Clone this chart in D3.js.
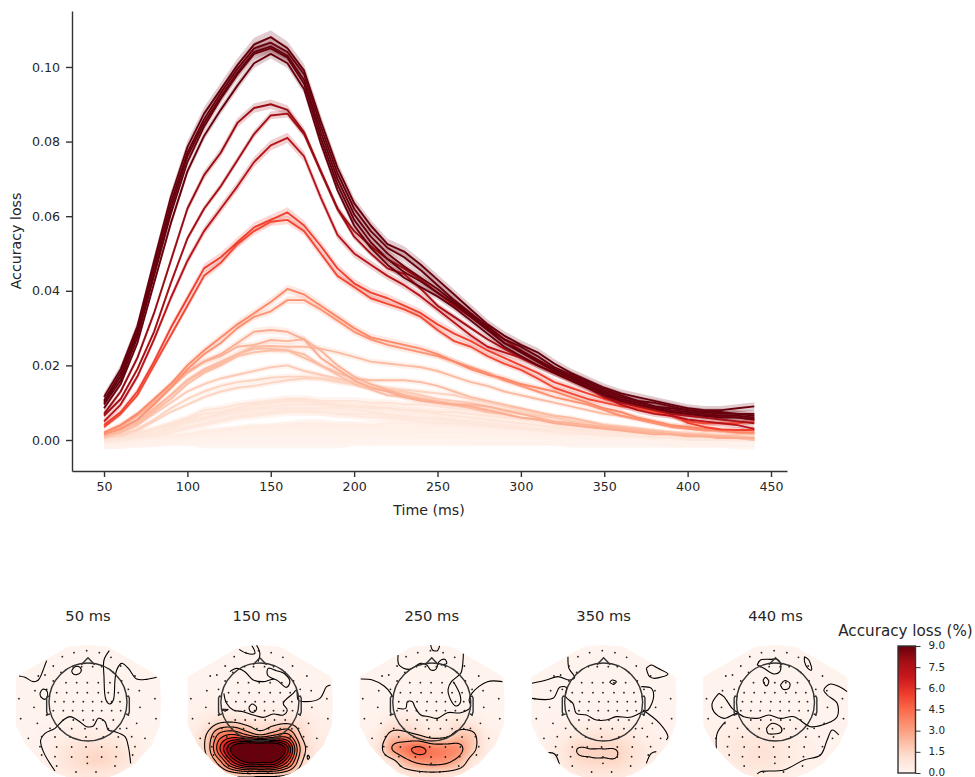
<!DOCTYPE html>
<html><head><meta charset="utf-8">
<script src="https://cdn.jsdelivr.net/npm/d3@7"></script>
<style>html,body{margin:0;background:#fff}svg{display:block}text{font-family:"DejaVu Sans";fill:#262626}</style>
</head><body><svg id="c" width="975" height="777"></svg>
<script>
// ---------- accuracy-loss curves (x 1000), one value every 10 ms from 50 to 440 ms
const times = [50,60,70,80,90,100,110,120,130,140,150,160,170,180,190,200,210,220,230,240,250,260,270,280,290,300,310,320,330,340,350,360,370,380,390,400,410,420,430,440];
const d1=[11.5,19,30.5,48,65,78.5,87.5,94,100.5,106,108,105,99,85.5,73,63.5,57.5,52.5,50.5,47,43,39,35,31,28,25.5,23.5,20.5,18,16,14,12.5,11.5,10.5,9.5,8.5,8,8,8.5,9];
const d2=[10.5,18,29.5,46.5,63.5,77,86,93,99.5,105,106.5,104,98,84,71.5,62,56,51.5,49,45.5,41.5,37.5,34,30.5,27,25,22.5,19.5,17.5,15.5,13.5,12,10.5,10,9,8,7.5,7.5,7,7];
const d3s=[10,17,28.5,45,62,76,85,92,98.5,104,105.5,103,96.5,82.5,70,60.5,54.5,50,46.5,43.5,40.5,37,33.5,30,26,24,21.5,19,17,15,13,11.5,10.5,9,8.5,8,7.5,7,7,6.5];
const d4=[9.5,16,27.5,44,60.5,74.5,84,91.5,98,103.5,105,102.5,95.5,81,68.5,59,53,48.5,45,42.5,39.5,36.5,33,29.5,26,23.5,21,18.5,16.5,14.5,12.5,11,10,9,8,7.5,7,6.5,6.5,6];
const d5=[8.5,15,26,42,58,72,81.5,88.5,95,101,103.5,101,94,79.5,67,57.5,51.5,47,43.5,41,38.5,35.5,32,28.5,25,22.5,20,18,16,14,12,10.5,9.5,8.5,7.5,7,6.5,6,6,5.5];
const r1=[7,13,22,34,48,62,71,77,85,89,90,88.5,82.5,72,62,56,52,48.5,46,43,39.5,36,33,30,27,24,21.5,19,17,15,12.5,10.5,9.5,8.5,7.5,7,6.5,6.5,6,5.5];
const r2=[6.5,11,19,29,42,54,62,68,75,82,87,87.5,82,72,62,54.5,50,46,44.5,40.5,36,33,30,27,24.5,22,20,18,16,14,11.5,10,9,8,7,6.5,6,5.5,5,4.5];
const r3=[5,9.5,17,27,38,48,56,62,68,74.5,79,81,76,65,55,50,47,44,41.5,38.5,35,31.5,28,25,23.5,22,20,18,16,14,11.5,9.5,8,7,6.5,5.5,5,4.5,4,3];
const o1=[4,7.5,13,21,30,38,46,49,53,57,59,61,57.5,52,46,42,39.5,38,36,34,31,28.5,26.5,24,22,20,18,15.5,14,12.5,11,10,9,8,7,4.6,3.5,2.8,2.7,2.7];
const o2=[3.5,7,12,20,28,36,44,47.5,52.5,56,58.5,59,56,50,44,41,38,36.5,35,33,29.5,26.5,25,22.5,20.5,18.8,16.5,14,12.5,11,10,9,8.5,7.5,6.5,5,4.5,4.5,4.5,5];
const l1=[2,4,7,11,15,20,24,27.5,31,34,37,40.5,39,36,33,30,27.5,26.5,25.5,24.5,23,21,19,17.5,16.5,15,14,13,11.5,10,8.5,7.5,6,5,4,3.5,3,2.5,2,2];
const l2=[1.5,3,5.5,9.5,14,19,23,26,30,33,34.5,37.5,37.5,35,32,29,27,25.5,24.5,23.5,22.5,21,19.5,18,16,14.5,13,11.5,10.5,9.5,8,6.5,5.5,4.5,3.5,3,2.5,2.5,2,2];
const p1=[1.5,3.5,6.5,10,14,18,21,23,26,29,29.5,29,27,22,19,16,14,13,11.5,10.5,10,9.5,9,8,7,6,5.5,4.5,4,3.5,3,2.5,2,1.5,1.5,1,1,.5,.5,.5];
const p2=[2,4,7,10.5,15,18.5,21,22.5,25,25.5,26.8,26.5,27,24,20,17,15,13.5,12,11,10,9.5,9.5,9,8,7,6,5,4.5,4,3.5,3,2.5,2,1.5,1.5,1,1,.5,.5];
const p3=[1,2.5,5,8.5,12,16,18.5,20.5,23,25,25.2,25,25,24.5,23.5,22.3,21,20.5,20,19.5,18.5,17,15.5,14.5,13,12,11,10,9,8,7,6.5,6,5,4,3.5,3,2.5,2,1.5];
const p4=[1,2.5,4.5,8,12,16,19,21,23,24.5,24.5,24,22,20,18,16.5,16,16,16,15.5,14.5,13,11.5,10.5,9.5,8.5,7.5,6.5,6,5,4,3.5,3,2.5,2,1.5,1.5,1,1,.5];
const p5=[1,2,4,7.5,11,15,18,20,22.5,23.5,24,24,23,20,17.5,15,13.5,12,11.5,11,10.5,9.5,8.5,7.5,7,6,5.5,5,4.5,4,3.5,3,2.5,2,2,1.5,1,.5,.5,0];
const p6=[.5,2,4,7,10,13,15,16.5,17.5,18.5,19.5,20,18.5,17.5,16.5,15.5,14.5,13.5,13,12,11,10.5,10,9,8,7,6.5,6,5,4.5,3.5,3,2.5,2,1.5,1,1,1,1.5,2];
const p7=[.5,1.5,3,5.5,8.5,11,13,14.5,15.5,16,16.7,17,17,16.5,15.5,15,14,14,13.5,13,12.5,12,11,10,9,8,7,6.5,5.5,5,4,3.5,3,2.5,2,2,1.5,1.5,1,1];
const p8=[.5,1,2.5,5,7.5,9.5,11.5,13,14,14.5,15.3,16,16.5,16.5,16,15,14.5,13.5,12.5,11.5,10.5,9.5,9,8.5,8,7.5,6.5,6,5,4.5,4,3.5,3,2.5,2,1.5,1,1,.5,0];
const f1=[.5,1,2,3,4.5,6,8,8.5,9.5,10,10.5,11,11,10.5,10.5,10.5,10,10,9.5,9.5,9,8.5,8,7.5,7,6.5,6,5.5,5,4.5,4,3.5,3,2.5,2,1.5,1.5,1,1,1];
const f2=[0,.5,1.5,3,4,5.5,7,7.5,8.5,9.5,10,10.5,10.5,10,9.5,9,9,8.5,8,8,7.5,7.5,7,6.5,6,5.5,5,5,4.5,4,3.5,3,2.5,2,2,1.5,1,1,.5,.5];
const f3=[0,.5,1,2,3.5,5,6,7,8,8.5,9,9.5,9.5,9.5,9,9,8.5,8.5,8,7.5,7,6.5,6,5.5,5,4.5,4,3.5,3,2.5,2.5,2,1.5,1,1,.5,.5,0,0,0];
const f4=[0,0,1,2,3,4.5,5.5,6.5,7.5,8,8.5,8.5,8.5,8.5,8.5,8,7.5,7,6.5,6,5.5,5,4.5,4,3.5,3,3,2.5,2.5,2,2,1.5,1,1,.5,.5,.5,.5,0,0];
const f5=[-.5,0,.5,1.5,2.5,3.5,4.5,5.5,6.5,7,7.5,8,8,7.5,7,7,7,6.5,6,6,6,5.5,5,4.5,4,3.5,3,3,2.5,2,1.5,1.5,1,1,.5,.5,0,0,0,0];
const f6=[-.5,0,.5,1,2,3,4,5,6,6.5,7,7.5,7.5,7.5,7,6.5,6,6,5.5,5,4.5,4.5,4,4,3.5,3,2.5,2,2,1.5,1.5,1,1,.5,.5,0,0,0,0,0];
const g1=[-.5,-.5,0,.5,1,1.5,2,2.5,3,3.5,3.5,4,4.5,4.5,4,4,4,4.5,4.5,5,5,4.5,4.5,4,4,3.5,3.5,3,3,2.5,2.5,2,1.5,1.5,1,1,.5,.5,0,0];
const g2=[-1,-.5,0,.5,.5,1,1.5,2,2.5,3,3,3.5,3.5,3.5,3.5,3.5,3,3,3,3.5,3.5,3.5,3,3,2.5,2.5,2,2,2,1.5,1.5,1,1,.5,.5,0,0,0,-.5,-.5];
const g3=[-1,-1,-.5,0,.5,.5,1,1.5,2,2,2.5,2.5,2.5,2.5,2.5,2.5,2.5,2,2,2,2,2,2,1.5,1.5,1.5,1,1,1,1,.5,.5,.5,0,0,0,0,-.5,-.5,-.5];
const g4=[-1,-1,-.5,-.5,0,0,.5,.5,1,1,1,1.5,1.5,1.5,1.5,1.5,1,1,1,1,1,1,.5,.5,.5,.5,.5,0,0,0,0,0,0,0,-.5,-.5,-.5,-.5,-.5,-.5];
const g5=[-1,-.5,-.5,0,0,0,.5,.5,.5,.5,.5,.5,.5,.5,.5,0,0,0,0,0,0,0,0,0,0,0,0,0,-.5,-.5,-.5,-.5,-.5,-.5,-.5,-.5,-.5,-.5,-1,-1];
const curves=[g5,g4,g3,g2,g1,f6,f5,f4,f3,f2,f1,p8,p7,p6,p5,p4,p3,p2,p1,l2,l1,o2,o1,r3,r2,r1,d5,d4,d3s,d2,d1];
const halfWidths=[2.4,2.2,1.6,1.2,1,.9,.9,.9,.9,.9,.9,.7,.7,.7,.7,.8,.8,.8,.9,.9,1,1,1.2,1.2,.9,1.1,1.1,1.2,1.2,1.4,1.6];
const xTicks=[50,100,150,200,250,300,350,400,450];
const yTicks=[0,20,40,60,80,100];

// ---------- topographies
const panelTitles=["50 ms","150 ms","250 ms","350 ms","440 ms"];
const gridX=[-240,-200,-160,-120,-80,-40,0,40,80,120,160,200,240];
const gridY=[-180,-140,-100,-60,-20,20,60,100,140,180,220];
const field50=[
[.12,.12,.12,.12,.12,.12,.12,.12,.12,.12,.12,.12,.12],
[.12,.12,.12,.12,.12,.12,.12,.12,.12,.12,.12,.12,.12],
[.15,.15,.15,.15,.15,.15,.15,.15,.15,.15,.15,.15,.15],
[.15,.15,.15,.15,.15,.15,.15,.15,.15,.15,.15,.15,.15],
[.15,.15,.15,.15,.15,.15,.15,.15,.15,.15,.15,.15,.15],
[.15,.15,.15,.15,.18,.18,.18,.18,.18,.15,.15,.15,.15],
[.15,.15,.18,.2,.25,.25,.25,.25,.25,.2,.18,.15,.15],
[.15,.15,.2,.3,.4,.5,.55,.55,.5,.35,.25,.15,.15],
[.15,.15,.25,.4,.7,1,1.2,1.25,1.05,.65,.35,.2,.15],
[.15,.15,.25,.4,.75,1.1,1.35,1.4,1.15,.75,.35,.2,.15],
[.15,.15,.2,.3,.45,.65,.75,.75,.65,.45,.25,.15,.15]];
const field150=[
[.15,.15,.15,.15,.15,.15,.15,.15,.15,.15,.15,.15,.15],
[.15,.15,.15,.15,.15,.15,.15,.15,.15,.15,.15,.15,.15],
[.15,.15,.15,.15,.15,.15,.15,.15,.15,.15,.15,.15,.15],
[.15,.15,.15,.15,.15,.15,.15,.15,.15,.15,.15,.15,.15],
[.2,.2,.2,.2,.2,.2,.2,.2,.2,.2,.2,.2,.2],
[.25,.25,.3,.35,.35,.35,.35,.35,.35,.35,.3,.25,.2],
[.3,.4,.7,1.4,1.5,1.1,.9,1.1,1.3,1,.55,.35,.3],
[.3,.6,1.6,4,4.8,3.8,2.8,3.6,4,1.6,.7,.5,.3],
[.3,.8,1.8,5.5,9.2,11.5,12,11.5,8,2.5,.9,.6,.3],
[.3,.7,1.2,3.2,6.5,8.6,8.6,8.4,5.5,1.8,.7,.5,.3],
[.2,.4,.7,1.2,1.6,1.8,1.7,1.7,1.4,.8,.5,.3,.2]];
const field250=[
[.12,.12,.12,.12,.12,.12,.12,.12,.12,.12,.12,.12,.12],
[.12,.12,.12,.12,.12,.12,.12,.12,.12,.12,.12,.12,.12],
[.12,.12,.12,.12,.12,.12,.12,.12,.12,.12,.12,.12,.12],
[.15,.15,.15,.15,.15,.15,.15,.15,.15,.15,.15,.15,.15],
[.15,.15,.15,.15,.15,.15,.15,.15,.15,.15,.15,.15,.15],
[.15,.15,.15,.18,.2,.2,.2,.2,.2,.18,.15,.15,.15],
[.2,.2,.3,.8,.9,.6,.5,.6,.9,.7,.3,.2,.2],
[.2,.3,.7,1.9,1.9,1.6,1,1.2,2,1.8,.6,.3,.2],
[.2,.35,1,3,4,4.8,4,3.8,3.4,1.9,.7,.3,.2],
[.2,.3,.5,1,2.4,3.2,3.4,3.2,2.4,.9,.4,.25,.2],
[.2,.25,.35,.5,.7,.9,1,.9,.7,.4,.3,.2,.2]];
const field350=[
[.12,.12,.12,.12,.12,.12,.12,.12,.12,.12,.12,.12,.12],
[.12,.12,.12,.12,.12,.12,.12,.12,.12,.12,.12,.12,.12],
[.12,.12,.12,.12,.12,.12,.12,.12,.12,.12,.12,.12,.12],
[.15,.15,.15,.15,.15,.15,.15,.15,.15,.15,.15,.15,.15],
[.15,.15,.15,.15,.15,.15,.15,.15,.15,.15,.15,.15,.15],
[.15,.15,.18,.2,.2,.2,.2,.2,.2,.18,.15,.15,.15],
[.2,.2,.25,.3,.35,.4,.4,.4,.35,.3,.25,.2,.2],
[.2,.2,.3,.5,.7,.9,1,.9,.7,.4,.3,.2,.2],
[.2,.25,.4,.8,1.5,1.5,1.5,1.47,1.1,.7,.4,.2,.2],
[.2,.25,.4,.7,1.2,1.38,1.4,1.38,.95,.6,.35,.2,.2],
[.2,.2,.3,.4,.6,.7,.7,.7,.5,.3,.2,.2,.2]];
const field440=[
[.12,.12,.12,.12,.12,.12,.12,.12,.12,.12,.12,.12,.12],
[.12,.12,.12,.12,.12,.12,.12,.12,.12,.12,.12,.12,.12],
[.12,.12,.12,.12,.12,.12,.12,.12,.12,.12,.12,.12,.12],
[.15,.15,.15,.15,.15,.15,.15,.15,.15,.15,.15,.15,.15],
[.15,.15,.15,.15,.15,.15,.15,.15,.15,.15,.15,.15,.15],
[.15,.15,.18,.2,.22,.22,.2,.18,.15,.15,.15,.15,.15],
[.2,.2,.3,.35,.4,.4,.35,.3,.3,.25,.2,.2,.2],
[.2,.3,.45,.6,.7,.7,.6,.45,.35,.25,.2,.2,.2],
[.2,.3,.5,.75,.9,.95,.85,.6,.4,.3,.2,.2,.2],
[.2,.3,.45,.65,.85,.9,.8,.55,.35,.25,.2,.2,.2],
[.2,.2,.3,.4,.5,.5,.45,.3,.25,.2,.2,.2,.2]];
const fields=[field50,field150,field250,field350,field440];
const fieldLevels=[[],[1.5,2.5,3.5,4.5,5.5,6.5,7.5,8.5],[1.5,3,4.5],[1.5],[]];

// near-zero contour lines, relative to the head centre
const lines50=[
[[-207,-78],[-189,-74],[-164,-61],[-149,-66],[-129,-111],[-124,-124]],
[[-49,-94],[-39,-106],[-24,-104],[-21,-91],[-34,-82],[-46,-86],[-49,-94]],
[[-144,-26],[-136,-38],[-124,-34],[-121,-21],[-129,-8],[-142,-16],[-144,-26]],
[[64,-154],[48,-126],[48,-76],[54,-6],[66,6],[76,-6],[81,-66],[86,-96],[101,-116],[121,-101],[146,-69],[176,-68],[206,-74]],
[[-99,207],[-134,149],[-142,114],[-129,94],[-99,79],[-74,54],[-54,44],[-29,56],[-4,74],[16,72],[31,49],[51,59],[61,84],[81,89],[111,104],[121,134],[128,184]]];
const lines150=[
[[-62,-158],[-40,-146],[-15,-146],[-25,-171]],
[[-10,-171],[0,-146],[-5,-121]],
[[-90,-91],[-70,-101],[-45,-91],[-20,-66],[10,-61],[45,-68],[80,-44],[90,-61],[75,-84],[50,-94],[25,-101],[23,-81],[45,-68]],
[[-108,-26],[-100,4],[-80,24],[-50,29],[-20,39],[10,46],[40,36],[70,39],[82,24],[70,4],[100,-26],[110,-36],[115,-6],[135,-1],[180,-11],[200,-46],[212,-51]],
[[-33,16],[-23,6],[-10,16],[-15,29],[-28,29],[-33,16]],
[[-115,22],[-95,22],[-105,27],[-115,22]],
[[144,159],[149,166],[144,172],[142,165],[144,159]]];
const lines250=[
[[-3,-171],[2,-156],[17,-154],[24,-171]],
[[-101,-141],[-98,-111],[-68,-98],[-33,-116],[-15,-111],[-3,-96],[12,-98],[22,-121],[39,-128],[45,-116],[27,-111]],
[[95,-146],[92,-106],[87,-86],[59,-61],[49,-38],[57,-6],[72,12],[85,4],[85,-21],[65,-61]],
[[-213,-69],[-178,-66],[-143,-48],[-123,-26],[-118,-16]],
[[212,-61],[167,-61],[122,-28],[112,-6],[117,14],[87,32],[47,32],[17,49],[-8,44],[-33,39],[-51,14],[-58,-1],[-73,-1],[-78,19],[-103,19]]];
const lines350=[
[[-107,-136],[-104,-101],[-87,-74],[-102,-66],[-137,-76],[-172,-66],[-215,-56]],
[[-215,-11],[-152,-11],[-132,-44],[-112,-44],[-114,-16],[-92,4],[-82,34],[-52,39],[-22,54],[8,54],[38,44],[78,46],[118,29],[133,24],[150,-16],[143,-41],[113,-46]],
[[118,24],[168,64],[193,104],[188,114]],
[[18,-59],[26,-66],[38,-61],[30,-53],[18,-59]],
[[128,-101],[143,-111],[163,-101],[193,-84],[153,-71],[138,-76],[128,-101]],
[[-167,152],[-147,156],[-132,189]],
[[128,184],[143,154],[158,149]]];
const lines440=[
[[-55,-111],[-45,-126],[-15,-128],[5,-128],[15,-116],[13,-91],[-5,-84],[-35,-101],[-55,-111]],
[[87,-136],[100,-126],[108,-96],[97,-101],[87,-121],[87,-136]],
[[-37,-66],[-30,-74],[-20,-61],[-27,-48],[-35,-56],[-37,-66]],
[[15,-51],[27,-64],[43,-56],[40,-41],[23,-38],[15,-51]],
[[-170,-26],[-190,4],[-185,29],[-155,49],[-115,34],[-95,44],[-55,49],[-20,39],[15,49],[55,44],[105,74],[155,64],[185,44],[185,4],[155,-21],[145,-36],[165,-54],[195,-44],[215,-31]],
[[-170,-26],[-155,-16],[-130,19],[-110,34]],
[[-150,59],[-175,94],[-177,144]],
[[-27,79],[-10,64],[15,74],[18,89],[-5,96],[-23,94],[-27,79]],
[[-55,216],[-45,209],[25,204],[85,174],[135,159],[155,114],[170,84],[190,99]]];
const contourLines=[lines50,lines150,lines250,lines350,lines440];

const outline=[[-2,-171],[60,-165],[130,-125],[206,-80],[216,-70],[218,0],[216,68],[190,130],[140,185],[90,215],[60,225],[-60,225],[-100,212],[-140,180],[-185,130],[-216,70],[-216,-76],[-205,-82],[-130,-125],[-60,-165]];
const sensors=[[-4,-154],[-42,-148],[34,-148],[-77,-136],[69,-134],[-104,-108],[98,-108],[-149,-78],[141,-78],[-129,-81],[-81,-89],[76,-89],[-19,-106],[14,-106],[-46,-106],[41,-106],
[-66,-58],[-34,-58],[-2,-58],[31,-58],[66,-58],[-104,-63],[101,-63],[-94,-28],[-64,-28],[-32,-28],[-2,-28],[31,-28],[61,-28],[91,-28],[-159,-34],[154,-34],[-124,-38],[121,-38],
[-72,-1],[-44,-1],[-14,-1],[14,-1],[41,-1],[71,-1],[-99,-1],[96,-1],[-207,-10],[201,-10],[-104,26],[-74,26],[-46,26],[-16,26],[14,26],[41,26],[71,26],[98,26],[-162,16],[156,16],
[-74,54],[-44,54],[-14,54],[16,54],[44,54],[76,54],[-202,50],[204,50],[-124,39],[121,39],[-84,80],[-49,80],[-9,80],[26,80],[61,80],[96,80],[-152,64],[146,64],[-114,79],[116,79],
[-99,105],[-54,105],[-6,105],[46,105],[91,105],[-179,109],[171,109],[-139,104],[131,104],[-94,135],[-49,135],[-6,135],[41,135],[86,135],[141,134],[-144,134],
[-139,159],[-49,165],[-2,165],[41,165],[-99,164],[84,164],[134,159],[-94,192],[-2,184],[81,192],[-36,210],[24,210]];
const nose=[[-20,-112],[0,-133],[20,-112]];
const earL=[[-114,-16],[-121,-18],[-124,-12],[-124,30],[-121,38],[-114,36]];
const earR=[[114,-16],[121,-18],[124,-12],[124,30],[121,38],[114,36]];
const headRadius=117;
const cbarTicks=[0,1.5,3,4.5,6,7.5,9];
const redsStops=["#fff5f0","#fee0d2","#fcbba1","#fc9272","#fb6a4a","#ef3b2c","#cb181d","#a50f15","#67000d"];

// ---------- drawing
const svg=d3.select("#c");
const reds=d3.scaleLinear().domain(redsStops.map((_,i)=>i/8)).range(redsStops).clamp(true);
const x=d3.scaleLinear().domain([30.8,459.6]).range([72,787]);
const y=d3.scaleLinear().domain([-8.31,115]).range([471,11]);
const peakColor=d3.scaleLinear().domain([0,100]).range([0,1]).clamp(true);
const bandAlpha=d3.scaleLinear().domain([1,6,20]).range([.95,.45,.2]).clamp(true);
const plot=svg.append("g");
curves.forEach((vals,i)=>{
  const peak=d3.max(vals),col=reds(peakColor(peak));
  const hw=v=>halfWidths[i]*(.65+.5*Math.max(v,0)/peak);
  plot.append("path").datum(vals)
    .attr("d",d3.area().x((_,k)=>x(times[k])).y0(v=>y(v-hw(v))).y1(v=>y(v+hw(v))))
    .attr("fill",col).attr("fill-opacity",bandAlpha(peak));
});
curves.forEach((vals)=>{
  const peak=d3.max(vals),col=reds(peakColor(peak));
  plot.append("path").datum(vals)
    .attr("d",d3.line().x((_,k)=>x(times[k])).y(v=>y(v)))
    .attr("fill","none").attr("stroke",col).attr("stroke-width",1.9).attr("stroke-linejoin","round");
});
const ax=svg.append("g").attr("transform","translate(0,471)").call(d3.axisBottom(x).tickValues(xTicks).tickSizeInner(6).tickSizeOuter(0).tickPadding(5));
const ay=svg.append("g").attr("transform","translate(72,0)").call(d3.axisLeft(y).tickValues(yTicks).tickFormat(d=>(d/1000).toFixed(2)).tickSizeInner(6).tickSizeOuter(0).tickPadding(6));
[ax,ay].forEach(a=>{a.selectAll("path,line").attr("stroke","#333").attr("stroke-width",1.4);
  a.selectAll("text").attr("font-family","DejaVu Sans").attr("font-size",12.6).attr("fill","#262626");});
svg.append("text").attr("x",429).attr("y",515).attr("text-anchor","middle").attr("font-size",14.2).text("Time (ms)");
svg.append("text").attr("transform","translate(21,241) rotate(-90)").attr("text-anchor","middle").attr("font-size",14.2).text("Accuracy loss");

// bicubic upsample of a coarse grid
function cr(a,b,c,d,t){return b+.5*t*(c-a+t*(2*a-5*b+4*c-d+t*(3*(b-c)+d-a)));}
function sample(g,u,v){
  const nx=g[0].length,ny=g.length;
  const gx=(u-gridX[0])/(gridX[1]-gridX[0]),gy=(v-gridY[0])/(gridY[1]-gridY[0]);
  const ix=Math.floor(gx),iy=Math.floor(gy),tx=gx-ix,ty=gy-iy;
  const at=(r,c)=>g[Math.max(0,Math.min(ny-1,r))][Math.max(0,Math.min(nx-1,c))];
  const row=r=>cr(at(r,ix-1),at(r,ix),at(r,ix+1),at(r,ix+2),tx);
  return Math.max(0,cr(row(iy-1),row(iy),row(iy+1),row(iy+2),ty));
}
const centers=d3.scalePoint().domain(panelTitles).range([88,775.5]);
const W=320,H=270;
const defs=svg.append("defs");
panelTitles.forEach((title,p)=>{
  const cx=centers(title);
  const sx=d3.scaleLinear().domain([-240,240]).range([cx-80,cx+80]);
  const sy=d3.scaleLinear().domain([-180,225]).range([642,777]);
  const line=d3.line().x(d=>sx(d[0])).y(d=>sy(d[1]));
  svg.append("text").attr("x",cx).attr("y",621).attr("text-anchor","middle").attr("font-size",14.7).text(title);
  defs.append("clipPath").attr("id","m"+p).append("path").attr("d",line.curve(d3.curveLinearClosed)(outline));
  line.curve(d3.curveLinear);
  const g=svg.append("g");
  const clip=g.append("g").attr("clip-path",`url(#m${p})`);
  const vals=new Float64Array(W*H);
  for(let j=0;j<H;j++)for(let i=0;i<W;i++)vals[j*W+i]=sample(fields[p],-240+i*1.5,-180+j*1.5);
  const layer=clip.append("g").attr("transform",`translate(${cx-80},642) scale(.5)`);
  const path=d3.geoPath();
  layer.append("rect").attr("width",W).attr("height",H).attr("fill",reds(0));
  const thr=d3.range(.1,9.1,.1);
  layer.selectAll(".b").data(d3.contours().size([W,H]).thresholds(thr)(vals)).join("path")
    .attr("d",path).attr("fill",d=>reds(d.value/9));
  layer.selectAll(".l").data(d3.contours().size([W,H]).thresholds(fieldLevels[p])(vals)).join("path")
    .attr("d",path).attr("fill","none").attr("stroke","#000").attr("stroke-width",2.2);
  clip.selectAll(".w").data(contourLines[p]).join("path")
    .attr("d",d3.line().x(d=>sx(d[0])).y(d=>sy(d[1])).curve(d3.curveCatmullRom))
    .attr("fill","none").attr("stroke","#000").attr("stroke-width",1.1);
  g.selectAll("circle.s").data(sensors).join("circle").attr("class","s")
    .attr("cx",d=>sx(d[0])).attr("cy",d=>sy(d[1])).attr("r",.9).attr("fill","#222");
  const head=g.append("g").attr("fill","none").attr("stroke","#333").attr("stroke-width",1.4);
  head.append("circle").attr("cx",sx(0)).attr("cy",sy(0)).attr("r",sx(headRadius)-sx(0));
  [nose,earL,earR].forEach(s=>head.append("path").attr("d",line(s)));
});

// colour bar
const cs=d3.scaleLinear().domain([0,9]).range([773,646]);
const cb=svg.append("g");
d3.range(0,127).forEach(k=>cb.append("rect").attr("x",898).attr("y",646+k).attr("width",17.5).attr("height",1.2)
  .attr("fill",reds(1-(k+.5)/127)));
cb.append("rect").attr("x",898).attr("y",646).attr("width",17.5).attr("height",127).attr("fill","none").attr("stroke","#333").attr("stroke-width",1.4);
const ca=svg.append("g").attr("transform","translate(915.5,0)").call(d3.axisRight(cs).tickValues(cbarTicks).tickFormat(d3.format(".1f")).tickSize(5).tickPadding(8));
ca.select(".domain").remove();
ca.selectAll("line").attr("stroke","#333").attr("stroke-width",1);
ca.selectAll("text").attr("font-family","DejaVu Sans").attr("font-size",10.4).attr("fill","#262626").attr("dy",".28em");
svg.append("text").attr("x",905.5).attr("y",636).attr("text-anchor","middle").attr("font-size",15.2).text("Accuracy loss (%)");
</script></body></html>
